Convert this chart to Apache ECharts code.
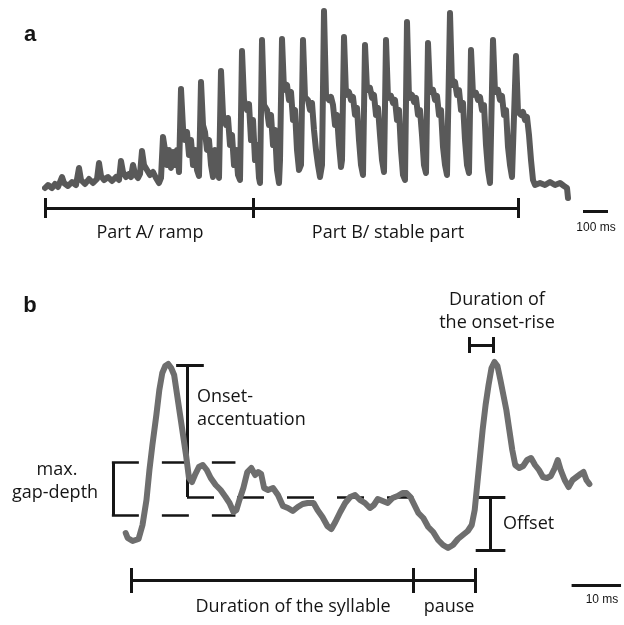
<!DOCTYPE html>
<html>
<head>
<meta charset="utf-8">
<script src="https://cdn.jsdelivr.net/npm/echarts@6/dist/echarts.min.js"></script>
<style>
html, body { margin: 0; background: #fff; }
#chart { width: 624px; height: 625px; }
</style>
</head>
<body>
<div id="chart"></div>
<script>
// panel a: whole song envelope (time in ms, level in arbitrary units)
var aTime = [0, 12, 28, 40, 52, 60, 68, 76, 92, 108, 124, 136, 144, 160, 176, 192, 208, 216, 224, 236, 252, 268, 284, 296, 304, 312, 324, 336, 344, 352, 360, 372, 380, 388, 396, 408, 420, 432, 444, 456, 464, 472, 480, 488, 496, 504, 512, 520, 528, 536, 544,
  552, 560, 568, 576, 584, 592, 600, 608, 616, 624,
  632, 640, 648, 656, 664, 672, 680, 688, 696, 704,
  712, 724, 732, 740, 748, 756, 764, 772, 780, 788,
  796, 808, 816, 824, 832, 840, 848, 856, 860, 868,
  876, 888, 896, 904, 912, 920, 928, 936, 940, 948,
  956, 968, 976, 984, 992, 1000, 1008, 1016, 1024, 1032,
  1040, 1052, 1060, 1068, 1076, 1084, 1092, 1100, 1108, 1116,
  1124, 1136, 1144, 1152, 1160, 1168, 1176, 1184, 1188, 1196,
  1204, 1216, 1224, 1232, 1240, 1248, 1256, 1264, 1272, 1280,
  1288, 1300, 1308, 1316, 1324, 1332, 1340, 1348, 1356, 1364,
  1372, 1384, 1392, 1400, 1408, 1416, 1424, 1432, 1440, 1448,
  1456, 1468, 1476, 1484, 1492, 1500, 1508, 1516, 1524, 1532,
  1540, 1552, 1560, 1568, 1576, 1584, 1592, 1600, 1608, 1620,
  1628, 1640, 1648, 1656, 1664, 1672, 1680, 1688, 1696, 1704,
  1712, 1724, 1732, 1740, 1748, 1756, 1764, 1772, 1780, 1792,
  1800, 1812, 1820, 1828, 1836, 1844, 1852, 1860, 1868, 1884,
  1892, 1904, 1912, 1920, 1928, 1936, 1944, 1952, 1960, 1980, 2000, 2020, 2040, 2060, 2076, 2088, 2092];
var aLevel = [22, 25, 22, 26, 23, 28, 33, 27, 24, 28, 25, 42, 30, 26, 31, 27, 31, 47, 34, 30, 33, 29, 33, 30, 49, 38, 33, 36, 33, 45, 36, 32, 36, 59, 45, 40, 35, 38, 32, 27, 32, 73, 60, 45, 60, 42, 58, 45, 60, 38, 121,
  82, 70, 78, 55, 70, 45, 60, 40, 34, 128,
  85, 78, 60, 70, 45, 33, 60, 50, 32, 139,
  95, 85, 92, 65, 75, 45, 60, 35, 30, 159,
  110, 100, 106, 70, 90, 50, 65, 32, 27, 170,
  105, 100, 85, 95, 65, 80, 40, 27, 50, 171,
  120, 125, 110, 118, 90, 100, 60, 40, 45, 170,
  113, 110, 100, 107, 80, 60, 45, 33, 45, 199,
  115, 110, 113, 105, 85, 95, 65, 43, 50, 173,
  115, 118, 110, 113, 95, 102, 70, 45, 35, 165,
  120, 122, 112, 115, 95, 102, 75, 50, 38, 170,
  112, 114, 107, 110, 90, 100, 60, 35, 30, 188,
  112, 115, 108, 112, 95, 100, 75, 45, 37, 167,
  118, 120, 110, 114, 95, 100, 63, 45, 35, 197,
  125, 128, 115, 120, 100, 107, 70, 45, 37, 160,
  115, 117, 110, 113, 100, 105, 65, 40, 27, 170,
  118, 120, 110, 114, 95, 100, 63, 45, 33, 154,
  98, 95, 98, 90, 93, 75, 50, 30, 25, 27, 25, 28, 25, 27, 24, 22, 12];
var partTicks = [0, 832, 1892];
var partLabels = ['Part A/ ramp', 'Part B/ stable part'];
var aScaleBar = [2152, 2252]; // 100 ms

// panel b: two syllables (time in ms, level in arbitrary units)
var bTime = [5.2, 5.6, 6.6, 7.8, 8.6, 9.4, 10, 10.6, 11.4, 12, 12.6, 13.2, 13.8, 14.4, 15, 15.6, 16.2, 16.8, 17.4, 18, 18.6, 19.2, 20, 20.8, 21.6, 22.4, 23.4, 24.4, 25.4, 26.2, 27, 27.6, 28.2, 29, 29.8, 30.6, 31.4, 32, 32.6, 33.2, 34, 35, 36, 37, 38, 39, 40, 41, 42, 43.2, 44, 45, 46, 46.8, 47.6, 48.6, 49.6, 50.6, 51.6, 52.6, 53.6, 54.6, 55.4, 56.2, 57.2, 58.2, 59.2, 60.2, 61.2, 62, 62.8, 63.6, 64.4, 65.4, 66.4, 67.4, 68.4, 69.4, 70.4, 71.4, 72.4, 73.4, 74.4, 75.2, 75.8, 76.2, 76.8, 77.4, 78, 78.6, 79.2, 79.8, 80.4, 81, 81.6, 82.2, 82.8, 83.4, 84, 84.8, 85.6, 86.4, 87.2, 88, 88.8, 89.6, 90.4, 91.2, 92, 92.6, 93.2, 94, 94.8, 95.6, 96.4, 97.2, 97.8, 98.4, 99];
var bLevel = [67, 62, 59, 61, 75, 100, 130, 155, 185, 210, 227, 234, 236, 232, 225, 205, 185, 165, 145, 122, 118, 125, 133, 135, 130, 122, 115, 110, 103, 97, 88, 90, 100, 112, 128, 132, 125, 128, 126, 112, 110, 112, 105, 94, 92, 89, 93, 96, 97, 97, 90, 83, 74, 71, 78, 88, 97, 103, 105, 100, 97, 92, 95, 101, 99, 97, 102, 104, 107, 107, 103, 95, 87, 82, 73, 68, 60, 55, 52, 55, 61, 65, 69, 75, 90, 110, 140, 170, 195, 215, 232, 238, 234, 220, 205, 190, 170, 150, 135, 132, 134, 140, 142, 135, 130, 123, 122, 124, 132, 140, 130, 120, 113, 120, 123, 126, 128, 120, 116];
var syllableTicks = [6.4, 63.4, 76];
var syllableLabels = ['Duration of the syllable', 'pause'];
var bScaleBar = [95.4, 105.4]; // 10 ms
var onsetAccT = 17.6, onsetAccLevels = [235, 103];
var gapT = 2.6, gapLevels = [138, 85], gapDashEnd = 27.4;
var plateauEnd = 63.4;
var riseTimes = [74.6, 79.6], riseLevel = 255;
var offsetT = 79, offsetLevels = [103, 50];

var black = '#151515';
function seg(x1, y1, x2, y2) { return { coords: [[x1, y1], [x2, y2]] }; }
function zip(xs, ys) { return xs.map(function (x, i) { return [x, ys[i]]; }); }

// annotation segments
var aMarks = [seg(partTicks[0], 2, partTicks[2], 2)];
partTicks.forEach(function (t) { aMarks.push(seg(t, 12, t, -8)); });
aMarks.push(seg(aScaleBar[0], -1, aScaleBar[1], -1));

var bMarks = [seg(syllableTicks[0], 20, syllableTicks[2], 20)];
syllableTicks.forEach(function (t) { bMarks.push(seg(t, 32, t, 7)); });
bMarks.push(seg(bScaleBar[0], 15, bScaleBar[1], 15));
// onset-accentuation
bMarks.push(seg(onsetAccT, onsetAccLevels[0], onsetAccT, onsetAccLevels[1]));
bMarks.push(seg(onsetAccT - 2.2, onsetAccLevels[0], onsetAccT + 3.4, onsetAccLevels[0]));
// max gap-depth bracket
bMarks.push(seg(gapT, gapLevels[0], gapT, gapLevels[1]));
// onset-rise bracket
bMarks.push(seg(riseTimes[0], riseLevel, riseTimes[1], riseLevel));
bMarks.push(seg(riseTimes[0], riseLevel + 8, riseTimes[0], riseLevel - 8));
bMarks.push(seg(riseTimes[1], riseLevel + 8, riseTimes[1], riseLevel - 8));
// offset
bMarks.push(seg(offsetT, offsetLevels[0], offsetT, offsetLevels[1]));
bMarks.push(seg(offsetT - 3, offsetLevels[0], offsetT + 3, offsetLevels[0]));
bMarks.push(seg(offsetT - 3, offsetLevels[1], offsetT + 3, offsetLevels[1]));

var bDashes = [
  seg(onsetAccT, onsetAccLevels[1], plateauEnd, onsetAccLevels[1]),
  seg(gapT - 0.2, gapLevels[0], gapDashEnd, gapLevels[0]),
  seg(gapT - 0.2, gapLevels[1], gapDashEnd, gapLevels[1])
];

var font = '"Open Sans", "Noto Sans", sans-serif';
function txt(x, y, s, size, align, weight, family) {
  return {
    type: 'text', x: x, y: y,
    style: {
      text: s, fill: black, textAlign: align || 'center', textVerticalAlign: 'middle',
      font: (weight || 'normal') + ' ' + size + 'px ' + (family || font)
    }
  };
}
var arial = '"Liberation Sans", Arial, sans-serif';

var chart = echarts.init(document.getElementById('chart'), null, { renderer: 'canvas' });
chart.setOption({
  animation: false,
  backgroundColor: '#fff',
  grid: [
    { left: 45, top: 10, width: 575, height: 240 },
    { left: 100, top: 340, width: 530, height: 260 }
  ],
  xAxis: [
    { type: 'value', gridIndex: 0, min: 0, max: 2300, show: false },
    { type: 'value', gridIndex: 1, min: 0, max: 106, show: false }
  ],
  yAxis: [
    { type: 'value', gridIndex: 0, min: -40, max: 200, show: false },
    { type: 'value', gridIndex: 1, min: 0, max: 260, show: false }
  ],
  series: [
    {
      type: 'line', xAxisIndex: 0, yAxisIndex: 0, data: zip(aTime, aLevel),
      showSymbol: false, clip: false,
      lineStyle: { color: '#595959', width: 6, join: 'round', cap: 'round' }
    },
    {
      type: 'lines', coordinateSystem: 'cartesian2d', xAxisIndex: 0, yAxisIndex: 0,
      data: aMarks, clip: false, z: 3,
      lineStyle: { color: black, width: 3, opacity: 1 }
    },
    {
      type: 'line', xAxisIndex: 1, yAxisIndex: 1, data: zip(bTime, bLevel),
      showSymbol: false, clip: false,
      lineStyle: { color: '#6e6e6e', width: 6, join: 'round', cap: 'round' }
    },
    {
      type: 'lines', coordinateSystem: 'cartesian2d', xAxisIndex: 1, yAxisIndex: 1,
      data: bMarks, clip: false, z: 3,
      lineStyle: { color: black, width: 3, opacity: 1 }
    },
    {
      type: 'lines', coordinateSystem: 'cartesian2d', xAxisIndex: 1, yAxisIndex: 1,
      data: bDashes, clip: false, z: 3,
      lineStyle: { color: black, width: 2.5, opacity: 1, type: [27, 23] }
    }
  ],
  graphic: [
    txt(30, 35, 'a', 22, 'center', 'bold', arial),
    txt(30, 306, 'b', 22, 'center', 'bold', arial),
    txt(150, 233, partLabels[0], 18),
    txt(388, 233, partLabels[1], 18),
    txt(596, 228, '100 ms', 12, 'center', 'normal', arial),
    txt(197, 397, 'Onset-', 18, 'left'),
    txt(197, 420, 'accentuation', 18, 'left'),
    txt(57, 470, 'max.', 18),
    txt(55, 493, 'gap-depth', 18),
    txt(497, 300, 'Duration of', 18),
    txt(497, 323, 'the onset-rise', 18),
    txt(503, 524, 'Offset', 18, 'left'),
    txt(293, 607, syllableLabels[0], 18),
    txt(449, 607, syllableLabels[1], 18),
    txt(602, 600, '10 ms', 12, 'center', 'normal', arial)
  ]
});
</script>
</body>
</html>
